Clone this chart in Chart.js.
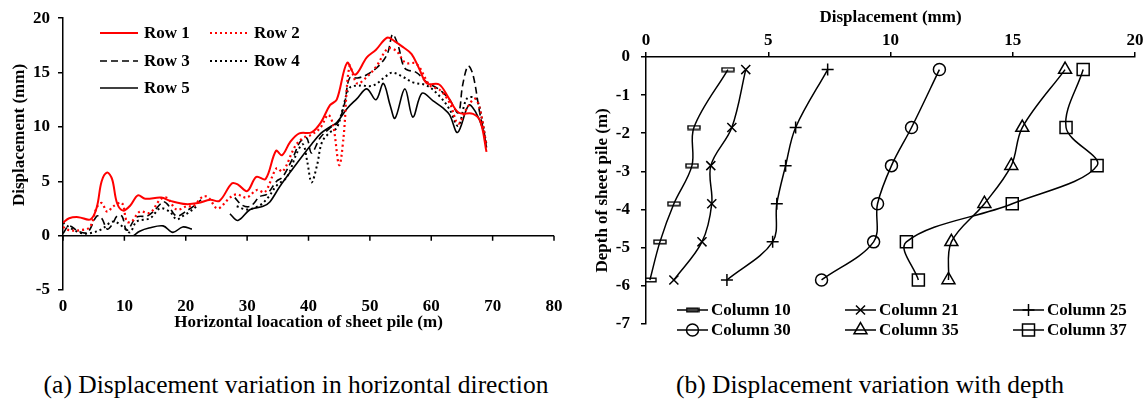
<!DOCTYPE html>
<html>
<head>
<meta charset="utf-8">
<script src="https://cdn.jsdelivr.net/npm/chart.js@4.4.1/dist/chart.umd.min.js"></script>
<style>
  body { margin: 0; background: #fff; width: 1145px; height: 409px; position: relative; overflow: hidden; font-family: "Liberation Serif", serif; }
  #wrapA { position: absolute; left: 0; top: 0; width: 575px; height: 340px; }
  #wrapB { position: absolute; left: 575px; top: 0; width: 570px; height: 345px; }
  .cap { position: absolute; top: 370px; font-size: 25.5px; white-space: nowrap; transform: translateX(-50%); color: #000; }
</style>
</head>
<body>
<div id="wrapA"><canvas id="chartA"></canvas></div>
<div id="wrapB"><canvas id="chartB"></canvas></div>
<div class="cap" style="left:296px">(a) Displacement variation in horizontal direction</div>
<div class="cap" style="left:870px">(b) Displacement variation with depth</div>

<script>
// (a) displacement along the wall, x = location (m), y = displacement (mm)
const row1X = [0, 1, 2.5, 4.5, 5.5, 6.3, 7.2, 8, 8.8, 9.8, 11, 12.2, 13.4, 16, 17.5, 20, 22, 24, 25.5, 27.5, 28.5, 30, 31.5, 33, 34.7, 35.7, 37, 38.5, 40.5, 42, 43.5, 44.6, 46.3, 47.6, 49.5, 51, 52.8, 54, 55.5, 56.8, 58, 59.3, 61.3, 62.8, 64.5, 66.8, 68, 69];
const row1Y = [1.2, 1.6, 1.7, 1.5, 2.6, 5.0, 5.8, 5.2, 3.0, 2.3, 2.8, 3.7, 3.4, 3.5, 3.2, 2.9, 3.0, 3.3, 3.2, 4.8, 4.7, 4.1, 5.4, 5.2, 7.8, 7.4, 8.6, 9.4, 9.5, 10.4, 12.0, 12.5, 15.9, 14.8, 16.4, 17.1, 18.2, 17.9, 17.3, 16.7, 15.4, 14.0, 13.9, 12.7, 11.3, 11.2, 10.5, 7.7];

const row2X = [0, 1, 2.8, 4.4, 5.5, 6.3, 7.2, 8.2, 9.6, 10.4, 11.2, 12.5, 14.2, 15.8, 16.9, 18.5, 20.2, 21.2, 22.8, 23.7, 25.2, 27.2, 28.3, 29.9, 31.6, 32.9, 34.8, 35.8, 37.8, 39.1, 40.2, 41.9, 43.2, 44, 45, 45.7, 46.7, 47.9, 49.5, 51.1, 52.9, 54.3, 55.8, 57.6, 59.8, 61.4, 63, 64.4, 65.8, 67.1, 67.9, 69];
const row2Y = [0.8, 0.5, 0.5, 0.8, 2.6, 3.0, 2.2, 2.7, 3.0, 1.3, 1.3, 2.2, 2.1, 3.3, 3.5, 2.4, 2.7, 2.7, 3.6, 3.5, 2.5, 3.5, 3.8, 3.5, 4.2, 4.0, 6.2, 5.9, 8.2, 9.0, 9.2, 9.9, 11.1, 10.2, 6.5, 9.0, 15.6, 14.0, 14.6, 15.6, 17.2, 17.0, 15.9, 15.8, 13.8, 13.4, 12.2, 10.3, 11.7, 12.6, 11.7, 8.3];

const row3X = [0, 1, 2.5, 4, 5.5, 6.3, 7.2, 8, 8.8, 9.6, 10.4, 12, 13.7, 14.7, 16.3, 17, 18.5, 20.2, 21.5, 22.5, 25, 28, 29.2, 30.5, 32.1, 33.2, 34.8, 35.8, 37.5, 38.6, 39.7, 40.5, 41.9, 43.5, 44.8, 45.9, 46.7, 48, 49.5, 51.6, 52.9, 53.7, 54.6, 55.7, 57.6, 59.3, 61.4, 63, 64.4, 65.1, 66, 66.8, 67.9, 69];
const row3Y = [0.2, 0.9, 0.4, 0.3, 1.8, 1.6, 0.6, 1.0, 1.8, 1.8, 0.5, 1.7, 1.8, 2.2, 3.1, 2.9, 1.8, 2.3, 2.8, 3.3, null, 3.5, 2.8, 2.7, 3.6, 3.8, 5.0, 5.4, 7.2, 8.6, 9.0, 7.6, 9.0, 9.9, 10.4, 12.2, 14.5, 14.5, 14.8, 15.7, 16.8, 18.5, 17.5, 15.4, 15.0, 14.1, 13.4, 12.5, 11.3, 13.8, 15.6, 14.8, 11.3, 8.5];

const row4X = [0, 1.5, 3.3, 5, 6.3, 8.2, 9.8, 10.9, 12, 14.2, 15.8, 17.4, 18.5, 19.5, 20.4, 21.8, 25, 28.3, 30, 32.1, 33.4, 34.8, 36.5, 38.1, 39.1, 39.8, 40.5, 41.4, 42.2, 43.5, 44.6, 45.6, 46.7, 48.4, 50.5, 52.7, 53.7, 55.4, 57, 59.3, 61.4, 63, 64.4, 65.8, 67.3, 68.3, 69];
const row4Y = [1.2, 0.6, 0.2, 0.3, 0.6, 1.3, 0.8, 0.3, 1.3, 1.6, 2.5, 2.2, 1.5, 1.8, 2.1, 2.7, null, 2.7, 2.4, 2.8, 3.5, 4.6, 5.4, 7.6, 8.4, 6.8, 4.9, 6.5, 8.6, 9.5, 9.9, 11.7, 13.6, 13.8, 13.8, 14.7, 15.0, 14.6, 14.1, 13.8, 12.8, 11.6, 10.1, 12.6, 12.6, 10.6, 8.2];

const row5X = [11.5, 12.5, 14, 16.3, 17.9, 19.5, 21, 24, 27.2, 28.5, 30.5, 32.6, 33.7, 35.3, 37.5, 39.1, 40.5, 42, 43.5, 44.6, 46.3, 47.9, 49.5, 51, 52.2, 53.3, 54.1, 55.7, 57, 58.5, 60.3, 62, 63, 64.3, 66.1, 67.2, 68.4, 69];
const row5Y = [0.0, 0.4, 0.7, 0.9, 0.3, 0.8, 0.6, null, 2.0, 1.4, 2.4, 2.7, 3.1, 4.5, 6.2, 7.4, 8.4, 9.4, 10.0, 10.4, 11.7, 12.6, 13.5, 12.5, 14.0, 12.0, 10.8, 13.5, 10.9, 13.1, 12.4, 11.7, 11.1, 9.5, 12.0, 11.4, 9.8, 8.1];

const rowNames = ['Row 1', 'Row 2', 'Row 3', 'Row 4', 'Row 5'];

// (b) displacement (mm) against depth (m)
const depth = [-0.33, -1.85, -2.85, -3.85, -4.85, -5.85];
const col10 = [3.35, 1.96, 1.88, 1.14, 0.57, 0.16];
const col21 = [4.08, 3.51, 2.65, 2.69, 2.29, 1.14];
const col25 = [7.43, 6.12, 5.71, 5.35, 5.18, 3.31];
const col30 = [12.0, 10.86, 10.04, 9.47, 9.31, 7.18];
const col35 = [17.14, 15.39, 14.94, 13.84, 12.49, 12.37];
const col37 = [17.88, 17.18, 18.45, 14.98, 10.65, 11.14];
const colNames = ['Column 10', 'Column 21', 'Column 25', 'Column 30', 'Column 35', 'Column 37'];

const serif = '"Liberation Serif", "Times New Roman", serif';
const boldFont = { family: serif, size: 17, weight: 'bold' };

function pts(xs, ys) {
  return xs.map((x, i) => ({ x: x, y: ys[i] }));
}

// small flat bar used as the Column 10 marker
const barMark = document.createElement('canvas');
barMark.width = 14; barMark.height = 6;
const bctx = barMark.getContext('2d');
bctx.strokeStyle = '#000'; bctx.lineWidth = 1.4;
bctx.strokeRect(1, 1.2, 12, 3.6);

// legend drawn inside the plot, item spots given in canvas pixels
const spotLegend = {
  id: 'spotLegend',
  afterDraw(chart, args, opts) {
    const ctx = chart.ctx;
    chart.data.datasets.forEach((ds, i) => {
      const p = opts.spots[i];
      if (!p) return;
      ctx.save();
      ctx.strokeStyle = ds.borderColor;
      ctx.lineWidth = ds.borderWidth;
      ctx.setLineDash(ds.borderDash || []);
      ctx.beginPath();
      ctx.moveTo(p[0], p[1]);
      ctx.lineTo(p[0] + opts.len, p[1]);
      ctx.stroke();
      ctx.setLineDash([]);
      if (opts.markers && ds.pointStyle) {
        ctx.fillStyle = 'rgba(0,0,0,0)';
        ctx.lineWidth = ds.pointBorderWidth;
        Chart.helpers.drawPoint(ctx, { pointStyle: ds.pointStyle, radius: ds.pointRadius, rotation: 0, borderWidth: ds.pointBorderWidth }, p[0] + opts.len / 2, p[1]);
      }
      ctx.fillStyle = '#000';
      ctx.font = 'bold 17px ' + serif;
      ctx.textBaseline = 'middle';
      ctx.fillText(ds.label, p[0] + opts.len + opts.gap, p[1] + 1);
      ctx.restore();
    });
  }
};

// zero line with tick marks, plus the y title placed a bit above centre, for chart (a)
const zeroAxis = {
  id: 'zeroAxis',
  beforeDatasetsDraw(chart) {
    const ctx = chart.ctx, xs = chart.scales.x, ys = chart.scales.y;
    const y0 = ys.getPixelForValue(0);
    ctx.save();
    ctx.strokeStyle = '#000';
    ctx.lineWidth = 1.5;
    ctx.beginPath();
    ctx.moveTo(chart.chartArea.left, y0);
    ctx.lineTo(chart.chartArea.right, y0);
    xs.ticks.forEach(t => {
      const px = xs.getPixelForValue(t.value);
      ctx.moveTo(px, y0);
      ctx.lineTo(px, y0 + 5);
    });
    ctx.stroke();
    ctx.restore();
  },
  afterDraw(chart) {
    const ctx = chart.ctx;
    ctx.save();
    ctx.translate(20, 135);
    ctx.rotate(-Math.PI / 2);
    ctx.fillStyle = '#000';
    ctx.font = 'bold 17px ' + serif;
    ctx.textAlign = 'center';
    ctx.textBaseline = 'middle';
    ctx.fillText('Displacement (mm)', 0, 0);
    ctx.restore();
  }
};

const rowStyles = [
  { color: '#ff0000', dash: [], width: 2 },
  { color: '#ff0000', dash: [2, 3], width: 2.2 },
  { color: '#000000', dash: [7, 4], width: 1.6 },
  { color: '#000000', dash: [2, 3], width: 2 },
  { color: '#000000', dash: [], width: 1.6 }
];
const rowData = [pts(row1X, row1Y), pts(row2X, row2Y), pts(row3X, row3Y), pts(row4X, row4Y), pts(row5X, row5Y)];

new Chart(document.getElementById('chartA'), {
  type: 'scatter',
  data: {
    datasets: rowData.map((d, i) => ({
      label: rowNames[i],
      data: d,
      showLine: true,
      spanGaps: false,
      borderColor: rowStyles[i].color,
      borderDash: rowStyles[i].dash,
      borderWidth: rowStyles[i].width,
      pointRadius: 0,
      tension: 0.35
    }))
  },
  options: {
    responsive: true,
    maintainAspectRatio: false,
    animation: false,
    devicePixelRatio: 1,
    layout: { padding: { top: 17, right: 21, left: 0, bottom: 0 } },
    plugins: {
      legend: { display: false },
      tooltip: { enabled: false },
      spotLegend: {
        len: 38, gap: 6, markers: false,
        spots: [[100, 33], [210, 33], [100, 61], [210, 61], [100, 88]]
      }
    },
    scales: {
      x: {
        type: 'linear', min: 0, max: 80,
        afterFit: s => { s.height = 50; },
        ticks: { stepSize: 10, color: '#000', font: boldFont, padding: 6 },
        grid: { display: false, drawTicks: false },
        border: { display: false },
        title: { display: true, text: 'Horizontal loacation of sheet pile (m)', color: '#000', font: boldFont, padding: { bottom: 7 } }
      },
      y: {
        min: -5, max: 20,
        afterFit: s => { s.width = 63; },
        ticks: { stepSize: 5, color: '#000', font: boldFont, padding: 8 },
        grid: { drawOnChartArea: false, drawTicks: true, tickLength: 5, color: '#000', lineWidth: 1.5 },
        border: { display: true, color: '#000', width: 1.5 },
        title: { display: false }
      }
    }
  },
  plugins: [zeroAxis, spotLegend]
});

const colMarks = [
  { style: barMark, r: 6 },
  { style: 'crossRot', r: 6.4 },
  { style: 'cross', r: 6 },
  { style: 'circle', r: 6 },
  { style: 'triangle', r: 7.5 },
  { style: 'rect', r: 8.5 }
];
const colData = [col10, col21, col25, col30, col35, col37].map(c => pts(c, depth));

new Chart(document.getElementById('chartB'), {
  type: 'scatter',
  data: {
    datasets: colData.map((d, i) => ({
      label: colNames[i],
      data: d,
      showLine: true,
      borderColor: '#000',
      borderWidth: 1.5,
      pointStyle: colMarks[i].style,
      pointRadius: colMarks[i].r,
      pointBorderColor: '#000',
      pointBackgroundColor: 'rgba(0,0,0,0)',
      pointBorderWidth: 1.5,
      tension: 0.35
    }))
  },
  options: {
    responsive: true,
    maintainAspectRatio: false,
    animation: false,
    devicePixelRatio: 1,
    layout: { padding: { top: 0, right: 9, left: 0, bottom: 12 } },
    plugins: {
      legend: { display: false },
      tooltip: { enabled: false },
      spotLegend: {
        len: 31, gap: 3, markers: true,
        spots: [[102, 310], [270, 310], [438, 310], [102, 330], [270, 330], [438, 330]]
      }
    },
    scales: {
      x: {
        type: 'linear', position: 'top', min: 0, max: 20,
        afterFit: s => { s.height = 57; },
        ticks: { stepSize: 5, color: '#000', font: boldFont, padding: 1 },
        grid: { drawOnChartArea: false, drawTicks: true, tickLength: 5, color: '#000', lineWidth: 1.5 },
        border: { display: true, color: '#000', width: 1.5 },
        title: { display: true, text: 'Displacement (mm)', color: '#000', font: boldFont, padding: { top: 7 } }
      },
      y: {
        min: -7, max: 0,
        afterFit: s => { s.width = 71; },
        ticks: { stepSize: 1, color: '#000', font: boldFont, padding: 11 },
        grid: { drawOnChartArea: false, drawTicks: true, tickLength: 5, color: '#000', lineWidth: 1.5 },
        border: { display: true, color: '#000', width: 1.5 },
        title: { display: true, text: 'Depth of sheet pile (m)', color: '#000', font: boldFont, padding: { top: 17 } }
      }
    }
  },
  plugins: [spotLegend]
});
</script>
</body>
</html>
